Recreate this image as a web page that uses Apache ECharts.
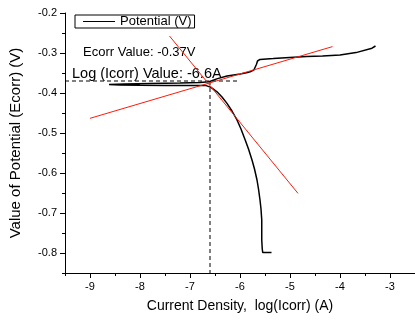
<!DOCTYPE html>
<html>
<head>
<meta charset="utf-8">
<script src="https://cdn.jsdelivr.net/npm/echarts@6/dist/echarts.min.js"></script>
<style>
  html, body { margin: 0; padding: 0; background: #fff; }
  #chart { width: 415px; height: 320px; }
</style>
</head>
<body>
<div id="chart"></div>
<script>
// Polarization scan: log(I) vs potential, in scan order (cathodic -> anodic)
const potentialCurve = [
  [-5.37, -0.799], [-5.545, -0.799], [-5.555, -0.79], [-5.565, -0.7675], [-5.565, -0.7175],
  [-5.58, -0.69], [-5.60, -0.6675], [-5.63, -0.64], [-5.66, -0.6175], [-5.71, -0.59],
  [-5.76, -0.5675], [-5.83, -0.54], [-5.896, -0.5175], [-5.98, -0.49], [-6.06, -0.4675],
  [-6.16, -0.445], [-6.26, -0.426], [-6.36, -0.41], [-6.46, -0.397], [-6.58, -0.386],
  [-6.69, -0.381], [-7.0, -0.3815], [-7.5, -0.381], [-8.0, -0.3805], [-8.4, -0.3798],
  [-8.62, -0.379], [-8.3, -0.3778], [-7.8, -0.3765], [-7.2, -0.375], [-6.8, -0.3735],
  [-6.62, -0.372], [-6.45, -0.364], [-6.26, -0.3575], [-5.995, -0.3525], [-5.85, -0.349],
  [-5.797, -0.347], [-5.72, -0.342], [-5.698, -0.338], [-5.67, -0.328], [-5.65, -0.32],
  [-5.60, -0.316], [-5.336, -0.314], [-5.005, -0.311], [-4.67, -0.309], [-4.35, -0.3075],
  [-4.0, -0.305], [-3.68, -0.299], [-3.36, -0.288], [-3.29, -0.2825]
];

// Tafel extrapolation lines
const anodicTafel = [[-9.0, -0.4633], [-4.15, -0.284]];
const cathodicTafel = [[-7.41, -0.2575], [-4.84, -0.651]];

// Corrosion point
const ecorr = -0.37;
const logIcorr = -6.6;
const ecorrGuide = [[-9.5, ecorr], [-6.0, ecorr]];
const icorrGuide = [[logIcorr, ecorr], [logIcorr, -0.85]];

// Axis ticks
const xMajorTicks = [-9, -8, -7, -6, -5, -4, -3];
const xMinorTicks = [-9.5, -8.5, -7.5, -6.5, -5.5, -4.5, -3.5];
const yMajorTicks = [-0.8, -0.7, -0.6, -0.5, -0.4, -0.3, -0.2];
const yMinorTicks = [-0.85, -0.75, -0.65, -0.55, -0.45, -0.35, -0.25];

const FONT = 'Liberation Sans, Arial, sans-serif';
const chart = echarts.init(document.getElementById('chart'), null, { renderer: 'canvas' });

const baseX = {
  type: 'value', min: -9.5, max: -2.5, position: 'bottom',
  splitLine: { show: false }
};
const baseY = {
  type: 'value', min: -0.85, max: -0.2, position: 'left',
  splitLine: { show: false }
};

chart.setOption({
  animation: false,
  backgroundColor: '#fff',
  grid: { left: 63, top: 13, width: 353.5, height: 260 },
  legend: {
    // thin rectangle acts as the line sample
    data: [{ name: 'Potential (V)', icon: 'rect' }],
    left: 75, top: 15,
    padding: [0, 3, 0, 8],
    borderColor: '#000', borderWidth: 1,
    itemWidth: 32, itemHeight: 1,
    itemStyle: { color: '#000', borderWidth: 0 },
    textStyle: { fontFamily: FONT, fontSize: 13, color: '#000', lineHeight: 13 }
  },
  xAxis: [
    Object.assign({}, baseX, {
      name: 'Current Density,  log(Icorr) (A)',
      nameLocation: 'middle', nameGap: 26,
      nameTextStyle: { fontFamily: FONT, fontSize: 14, color: '#000' },
      axisLine: { onZero: false, lineStyle: { color: '#000', width: 1 } },
      axisTick: { inside: false, length: 5, customValues: xMajorTicks, lineStyle: { color: '#000' } },
      axisLabel: { customValues: xMajorTicks, margin: 8, fontFamily: FONT, fontSize: 11, color: '#000' }
    }),
    Object.assign({}, baseX, {
      axisLine: { show: false },
      axisTick: { length: 3, customValues: xMinorTicks, lineStyle: { color: '#000' } },
      axisLabel: { show: false }
    })
  ],
  yAxis: [
    Object.assign({}, baseY, {
      name: 'Value of Potential (Ecorr) (V)',
      nameLocation: 'middle', nameGap: 42,
      nameTextStyle: { fontFamily: FONT, fontSize: 15, color: '#000' },
      axisLine: { onZero: false, lineStyle: { color: '#000', width: 1 } },
      axisTick: { inside: false, length: 5, customValues: yMajorTicks, lineStyle: { color: '#000' } },
      axisLabel: {
        customValues: yMajorTicks, margin: 8, fontFamily: FONT, fontSize: 11, color: '#000',
        formatter: v => v.toFixed(1)
      }
    }),
    Object.assign({}, baseY, {
      axisLine: { show: false },
      axisTick: { length: 3, customValues: yMinorTicks, lineStyle: { color: '#000' } },
      axisLabel: { show: false }
    })
  ],
  graphic: [
    { type: 'text', left: 83, top: 45.5,
      style: { text: 'Ecorr Value: -0.37V', font: '13px ' + FONT, fill: '#000' } },
    { type: 'text', left: 72, top: 66,
      style: { text: 'Log (Icorr) Value: -6.6A', font: '14.5px ' + FONT, fill: '#000' } }
  ],
  series: [
    {
      name: 'Potential (V)', type: 'line', data: potentialCurve,
      showSymbol: false, symbol: 'none',
      lineStyle: { color: '#000', width: 1.5 }, itemStyle: { color: '#000' }, z: 3
    },
    {
      name: 'anodic', type: 'line', data: anodicTafel, symbol: 'none',
      lineStyle: { color: '#ff1a0a', width: 1 }, z: 4
    },
    {
      name: 'cathodic', type: 'line', data: cathodicTafel, symbol: 'none',
      lineStyle: { color: '#ff1a0a', width: 1 }, z: 4
    },
    {
      name: 'ecorrGuide', type: 'line', data: ecorrGuide, symbol: 'none',
      lineStyle: { color: '#000', width: 1, type: [4, 3] }, z: 2
    },
    {
      name: 'icorrGuide', type: 'line', data: icorrGuide, symbol: 'none',
      lineStyle: { color: '#000', width: 1, type: [4, 3] }, z: 2
    }
  ]
});
</script>
</body>
</html>
